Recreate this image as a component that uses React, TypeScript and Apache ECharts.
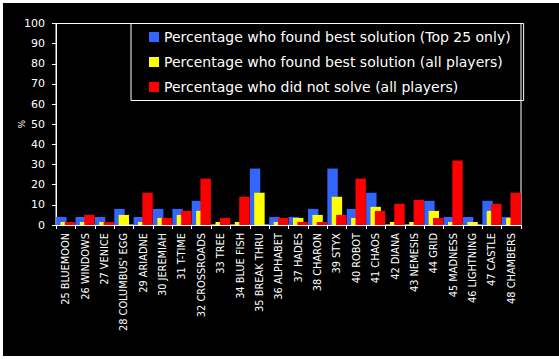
import React, { useEffect, useRef } from "react";
import * as echarts from "echarts";

const categories = [
  "25 BLUEMOON", "26 WINDOWS", "27 VENICE", "28 COLUMBUS' EGG", "29 ARIADNE",
  "30 JEREMIAH", "31 T-TIME", "32 CROSSROADS", "33 TREE", "34 BLUE FISH",
  "35 BREAK THRU", "36 ALPHABET", "37 HADES", "38 CHARON", "39 STYX",
  "40 ROBOT", "41 CHAOS", "42 DIANA", "43 NEMESIS", "44 GRID",
  "45 MADNESS", "46 LIGHTNING", "47 CASTLE", "48 CHAMBERS",
];
const seriesNames = [
  "Percentage who found best solution (Top 25 only)",
  "Percentage who found best solution (all players)",
  "Percentage who did not solve (all players)",
];
const bestTop25 = [4, 4, 4, 8, 4, 8, 8, 12, 0, 0, 28, 4, 4, 8, 28, 8, 16, 0, 0, 12, 4, 4, 12, 4];
const bestAll = [1.5, 1.5, 1.5, 5, 1.5, 3.5, 5, 7, 1.5, 1.5, 16, 1.5, 3.5, 5, 14, 3.5, 9, 1.5, 1.5, 7, 1.5, 1.5, 7, 3.5];
const notSolved = [1.5, 5, 1.5, 0, 16, 3.5, 7, 23, 3.5, 14, 0, 3.5, 1.5, 1.5, 5, 23, 7, 10.5, 12.5, 3.5, 32, 0, 10.5, 16];
const colors = ["#3366FF", "#FFFF00", "#FF0000"];

export default function App() {
  const ref = useRef<HTMLDivElement>(null);
  useEffect(() => {
    document.body.style.margin = "0";
    const chart = echarts.init(ref.current!, null, { renderer: "svg" });
    const font = "'DejaVu Sans', Verdana, sans-serif";
    const data = [bestTop25, bestAll, notSolved];
    chart.setOption({
      animation: false,
      backgroundColor: "#000000",
      grid: {
        left: 53, top: 20.5, right: 38, bottom: 131,
        show: true, borderColor: "#FFFFFF", borderWidth: 1, backgroundColor: "transparent",
      },
      legend: {
        orient: "vertical",
        left: 128, top: 20.5,
        itemWidth: 10, itemHeight: 10, itemGap: 11,
        padding: [6.5, 13, 6.5, 18],
        borderColor: "#FFFFFF", borderWidth: 1,
        icon: "rect",
        textStyle: { color: "#FFFFFF", fontSize: 14, fontFamily: font, lineHeight: 14, width: 344 },
        data: seriesNames,
      },
      xAxis: {
        type: "category",
        data: categories,
        axisLine: { lineStyle: { color: "#FFFFFF", width: 1 } },
        axisTick: { show: true, length: 4, lineStyle: { color: "#FFFFFF" } },
        axisLabel: { rotate: 90, margin: 8, interval: 0, color: "#FFFFFF", fontSize: 9.8, fontFamily: font },
      },
      yAxis: {
        type: "value",
        min: 0, max: 100, interval: 10,
        name: "%",
        nameLocation: "middle",
        nameGap: 30,
        nameRotate: 90,
        nameMoveOverlap: false,
        nameTextStyle: { color: "#FFFFFF", fontSize: 9, fontFamily: font },
        axisLine: { show: true, lineStyle: { color: "#FFFFFF", width: 1 } },
        axisTick: { show: true, length: 4, lineStyle: { color: "#FFFFFF" } },
        axisLabel: { margin: 11, color: "#FFFFFF", fontSize: 11, fontFamily: font },
        splitLine: { show: false },
      },
      series: seriesNames.map((name, i) => ({
        name,
        type: "bar",
        data: data[i],
        barWidth: 10.4,
        barGap: "-58%",
        itemStyle: { color: colors[i] },
      })),
    });
    return () => chart.dispose();
  }, []);
  return (
    <div style={{ position: "relative", width: 559, height: 359, background: "#FFFFFF" }}>
      <div ref={ref} style={{ position: "absolute", left: 3, top: 3, width: 556, height: 353 }} />
    </div>
  );
}
